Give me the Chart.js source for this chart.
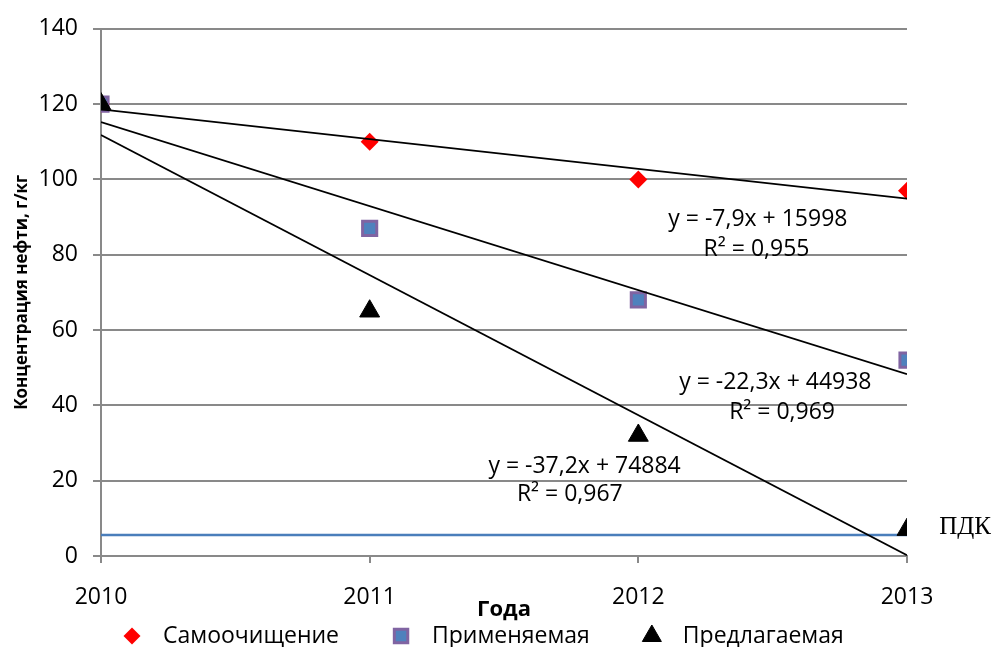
<!DOCTYPE html>
<html>
<head>
<meta charset="utf-8">
<script src="https://cdn.jsdelivr.net/npm/chart.js@4.4.1/dist/chart.umd.min.js"></script>
<style>
  html, body { margin: 0; padding: 0; background: #fff; }
  #wrap { width: 1005px; height: 647px; }
</style>
</head>
<body>
<div id="wrap"><canvas id="chart" width="1005" height="647"></canvas></div>
<script>
const years = [2010, 2011, 2012, 2013];
const selfCleaning = [120, 110, 100, 97];
const applied = [120, 87, 68, 52];
const proposed = [120, 65, 32, 7];
const pdkValue = 5.6;
const seriesNames = ['Самоочищение', 'Применяемая', 'Предлагаемая'];
const trendTexts = [
  ['y = -7,9x + 15998', 'R² = 0,955'],
  ['y = -22,3x + 44938', 'R² = 0,969'],
  ['y = -37,2x + 74884', 'R² = 0,967'],
];
// where the equation labels sit, in data units (year, value)
const trendLabelSpots = [
  [[2012.445, 89.5], [2012.44, 81.4]],
  [[2012.51, 46.2], [2012.535, 38.0]],
  [[2011.80, 23.8], [2011.745, 16.4]],
];

const FONT = '"Open Sans", "DejaVu Sans", sans-serif';
const GRID = '#898989';

const toPoints = (values) => values.map((v, i) => ({ x: years[i], y: v }));

// least squares line over the years
const trendPoints = (values) => {
  const n = values.length;
  const mx = years.reduce((a, b) => a + b, 0) / n;
  const my = values.reduce((a, b) => a + b, 0) / n;
  let sxy = 0, sxx = 0;
  years.forEach((x, i) => {
    sxy += (x - mx) * (values[i] - my);
    sxx += (x - mx) * (x - mx);
  });
  const slope = sxy / sxx;
  const first = years[0], last = years[years.length - 1];
  return [
    { x: first, y: my + slope * (first - mx) },
    { x: last, y: my + slope * (last - mx) },
  ];
};

const trendLine = (values) => ({
  type: 'line',
  data: trendPoints(values),
  borderColor: '#000',
  borderWidth: 1.75,
  pointRadius: 0,
  fill: false,
  order: -1,
});

const labelsPlugin = {
  id: 'labels',
  afterDatasetsDraw(chart) {
    const { ctx, scales } = chart;
    ctx.save();
    ctx.fillStyle = '#000';
    ctx.textAlign = 'center';
    ctx.textBaseline = 'middle';
    ctx.font = `23px ${FONT}`;
    trendTexts.forEach((lines, i) => {
      lines.forEach((text, j) => {
        const [x, y] = trendLabelSpots[i][j];
        ctx.fillText(text, scales.x.getPixelForValue(x), scales.y.getPixelForValue(y));
      });
    });
    ctx.textAlign = 'left';
    ctx.font = '25px "Liberation Serif", "DejaVu Serif", serif';
    ctx.fillText('ПДК', scales.x.getPixelForValue(2013.12), scales.y.getPixelForValue(7.7));
    ctx.restore();
  },
};

// legend row under the axis title, markers taken from the series datasets
const legendPlugin = {
  id: 'bottomLegend',
  afterDraw(chart) {
    const { ctx } = chart;
    const y = 636;
    let x = 132;
    ctx.save();
    ctx.font = `23px ${FONT}`;
    ctx.textBaseline = 'middle';
    ctx.textAlign = 'left';
    seriesNames.forEach((name, i) => {
      const ds = chart.data.datasets[i];
      ctx.fillStyle = ds.backgroundColor;
      ctx.strokeStyle = ds.borderColor;
      ctx.lineWidth = ds.borderWidth;
      Chart.helpers.drawPoint(ctx, {
        pointStyle: ds.pointStyle,
        radius: ds.legendRadius,
        borderWidth: ds.borderWidth,
        rotation: 0,
      }, x, y);
      ctx.fillStyle = '#000';
      ctx.fillText(name, x + 31, y);
      x += 31 + ctx.measureText(name).width + 62;
    });
    ctx.restore();
  },
};

new Chart(document.getElementById('chart'), {
  type: 'scatter',
  data: {
    datasets: [
      {
        label: seriesNames[0],
        data: toPoints(selfCleaning),
        pointStyle: 'rectRot',
        pointRadius: 9,
        pointHoverRadius: 9,
        legendRadius: 8.5,
        backgroundColor: '#ff0000',
        borderColor: '#ff0000',
        borderWidth: 0,
        order: 2,
      },
      {
        label: seriesNames[1],
        data: toPoints(applied),
        pointStyle: 'rect',
        pointRadius: 10,
        pointHoverRadius: 10,
        legendRadius: 9.5,
        backgroundColor: '#4f81bd',
        borderColor: '#8064a2',
        borderWidth: 3,
        order: 1,
      },
      {
        label: seriesNames[2],
        data: toPoints(proposed),
        pointStyle: 'triangle',
        pointRadius: 11.5,
        pointHoverRadius: 11.5,
        legendRadius: 11,
        backgroundColor: '#000',
        borderColor: '#000',
        borderWidth: 1,
        order: 0,
      },
      trendLine(selfCleaning),
      trendLine(applied),
      trendLine(proposed),
      {
        type: 'line',
        data: [{ x: years[0], y: pdkValue }, { x: years[years.length - 1], y: pdkValue }],
        borderColor: '#4a7ebb',
        borderWidth: 2.5,
        pointRadius: 0,
        fill: false,
        order: 10,
      },
    ],
  },
  options: {
    responsive: false,
    animation: false,
    devicePixelRatio: 1,
    layout: { padding: { top: 25, right: 98, left: 0, bottom: 24 } },
    plugins: {
      tooltip: { enabled: false },
      legend: { display: false },
    },
    scales: {
      x: {
        type: 'linear',
        min: years[0],
        max: years[years.length - 1],
        afterBuildTicks: (scale) => {
          scale.ticks = years.map((v) => ({ value: v }));
        },
        ticks: {
          color: '#000',
          padding: 21,
          font: { family: FONT, size: 23 },
          callback: (v) => String(v),
        },
        grid: { drawOnChartArea: false, color: GRID, lineWidth: 2, tickLength: 7 },
        border: { color: GRID, width: 2 },
        title: {
          display: true,
          text: 'Года',
          color: '#000',
          padding: { top: 0, bottom: 0 },
          font: { family: FONT, size: 22, weight: 'bold' },
        },
        afterFit: (scale) => { scale.height = 67; },
      },
      y: {
        min: 0,
        max: 140,
        ticks: {
          stepSize: 20,
          color: '#000',
          padding: 15,
          font: { family: FONT, size: 23 },
        },
        grid: { color: GRID, lineWidth: 2, tickLength: 8 },
        border: { color: GRID, width: 2 },
        title: {
          display: true,
          text: 'Концентрация нефти, г/кг',
          color: '#000',
          padding: { top: 12, bottom: 0 },
          font: { family: FONT, size: 17, weight: 'bold' },
        },
        afterFit: (scale) => { scale.width = 101; },
      },
    },
  },
  plugins: [labelsPlugin, legendPlugin],
});
</script>
</body>
</html>
